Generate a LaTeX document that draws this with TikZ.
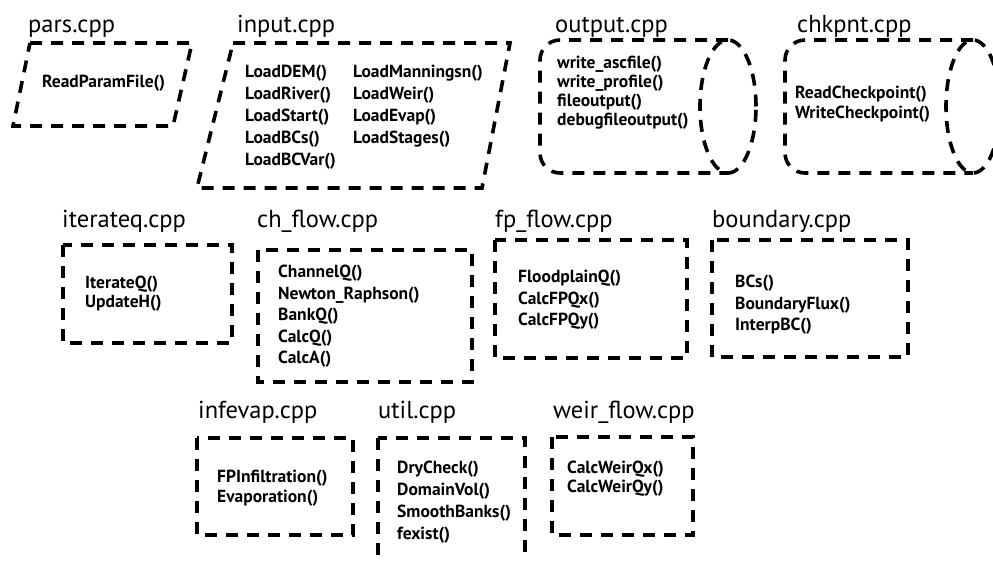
\documentclass[tikz,border=0pt]{standalone}
\usepackage{fontspec}
\setmainfont{PT Sans}
\usetikzlibrary{positioning}
\tikzset{
  filebox/.style={line width=3.6pt, dash pattern=on 12pt off 9pt},
  filename/.style={anchor=base west, inner sep=0pt, font=\fontsize{24.5}{28}\selectfont},
  funclist/.style={anchor=north west, inner sep=0pt, align=left,
    font=\bfseries\fontsize{17.5}{21.5}\selectfont},
}
\begin{document}
\begin{tikzpicture}[x=1pt, y=-1pt]
  \clip (0,0) rectangle (993,561);
  % top row
  \draw[filebox] (30,43) -- (192,43) -- (173,126) -- (13,126) -- cycle;
  \node[filename] (parsname) at (28,33) {pars.cpp};
  \node[funclist] (parsfuncs) at (42,75) {ReadParamFile()};

  \draw[filebox] (233,43) -- (510,43) -- (482,188) -- (197,188) -- cycle;
  \node[filename] (inputname) at (237,33) {input.cpp};
  \node[funclist, font=\bfseries\fontsize{17.5}{22}\selectfont] (inputfuncs) at (245,65)
    {LoadDEM()\\LoadRiver()\\LoadStart()\\LoadBCs()\\LoadBCVar()};
  \node[funclist, font=\bfseries\fontsize{17.5}{22}\selectfont] (inputfuncs2) at (353,65)
    {LoadManningsn()\\LoadWeir()\\LoadEvap()\\LoadStages()};

  \draw[filebox, rounded corners=20pt] (728,40) -- (540,40) -- (540,173) -- (728,173);
  \draw[filebox] (728,106.5) ellipse [x radius=28pt, y radius=66.5pt];
  \node[filename] (outputname) at (555,33) {output.cpp};
  \node[funclist, font=\bfseries\fontsize{17.5}{19}\selectfont] (outputfuncs) at (557,56)
    {write\_ascfile()\\write\_profile()\\fileoutput()\\debugfileoutput()};

  \draw[filebox, rounded corners=20pt] (973,40) -- (785,40) -- (785,173) -- (973,173);
  \draw[filebox] (973,106.5) ellipse [x radius=27pt, y radius=66.5pt];
  \node[filename] (chkpntname) at (797,33) {chkpnt.cpp};
  \node[funclist, font=\bfseries\fontsize{17.5}{20}\selectfont] (chkpntfuncs) at (795,86)
    {ReadCheckpoint()\\WriteCheckpoint()};

  % middle row
  \draw[filebox] (63,245) rectangle (232,343);
  \node[filename] (iterateqname) at (62,228) {iterateq.cpp};
  \node[funclist, font=\bfseries\fontsize{17.5}{18.5}\selectfont] (iterateqfuncs) at (85,276)
    {IterateQ()\\UpdateH()};

  \draw[filebox] (258,250) rectangle (472,382);
  \node[filename] (chflowname) at (257,228) {ch\_flow.cpp};
  \node[funclist] (chflowfuncs) at (278,265)
    {ChannelQ()\\Newton\_Raphson()\\BankQ()\\CalcQ()\\CalcA()};

  \draw[filebox] (495,240) rectangle (687,358);
  \node[filename] (fpflowname) at (495,228) {fp\_flow.cpp};
  \node[funclist] (fpflowfuncs) at (518,270) {FloodplainQ()\\CalcFPQx()\\CalcFPQy()};

  \draw[filebox] (712,240) rectangle (908,357);
  \node[filename] (boundaryname) at (712,228) {boundary.cpp};
  \node[funclist] (boundaryfuncs) at (735,275) {BCs()\\BoundaryFlux()\\InterpBC()};

  % bottom row
  \draw[filebox] (197,438) rectangle (353,535);
  \node[filename] (infevapname) at (198,418) {infevap.cpp};
  \node[funclist, font=\bfseries\fontsize{17.5}{20}\selectfont] (infevapfuncs) at (217,470)
    {FPInfiltration()\\Evaporation()};

  \draw[filebox] (378,438) rectangle (525,600);
  \node[filename] (utilname) at (378,418) {util.cpp};
  \node[funclist, font=\bfseries\fontsize{17.5}{22}\selectfont] (utilfuncs) at (397,461)
    {DryCheck()\\DomainVol()\\SmoothBanks()\\fexist()};

  \draw[filebox] (552,437) rectangle (693,535);
  \node[filename] (weirflowname) at (553,418) {weir\_flow.cpp};
  \node[funclist, font=\bfseries\fontsize{17.5}{19}\selectfont] (weirflowfuncs) at (567,461)
    {CalcWeirQx()\\CalcWeirQy()};
\end{tikzpicture}
\end{document}
